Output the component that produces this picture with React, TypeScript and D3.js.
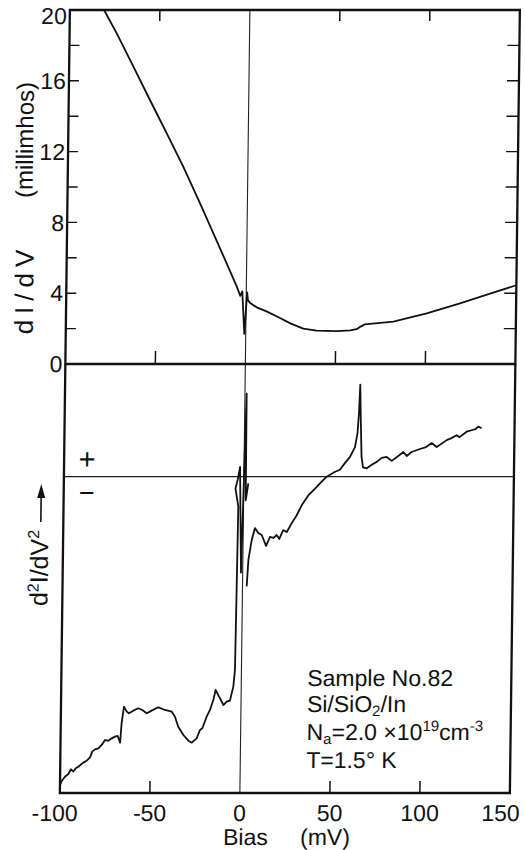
import React from 'react';
import * as d3 from 'd3';

// ---- data ----
const biasTicks = [-100, -50, 0, 50, 100, 150];
const innerBiasTicks = [-50, 50, 100];
const dIdVTicks = [0, 4, 8, 12, 16, 20];
const dIdVMinorTicks = [2, 4, 6, 8, 10, 12, 14, 16, 18];

// top panel: dI/dV (millimhos) vs bias (mV)
const dIdVBias = [-81, -73.8, -64.3, -54.8, -45.3, -35.9, -26.3, -18.7, -11.1, -5.3, -3.3, -2.2, -0.8, 0.5, 1.0, 2.2, 5.9, 11.4, 18.9, 25, 31.9, 39.4, 50.5, 58, 61.6, 63.5, 66.1, 81.9, 100.4, 118.8, 137.2, 150];
const dIdVValue = [20, 18.68, 16.8, 14.9, 13.03, 11.15, 9.08, 7.38, 5.69, 4.37, 3.85, 4.1, 1.7, 4.05, 3.6, 3.45, 3.2, 2.97, 2.6, 2.28, 2.0, 1.88, 1.86, 1.9, 1.97, 2.1, 2.24, 2.39, 2.86, 3.43, 4.03, 4.45];

// bottom panel: d2I/dV2 (arbitrary units), negative bias side through the zero-bias spike
const d2LeftBias = [-100, -98.7, -97.3, -95.4, -94.0, -92.7, -91.4, -89.9, -88.4, -87.2, -85.3, -83.5, -82.3, -80.8, -78.9, -77.1, -75.3, -73.4, -71.6, -69.8, -68.3, -66.9, -66.2, -65.0, -63.4, -62.2, -59.8, -57.0, -54.8, -52.3, -49.6, -45.9, -42.2, -38.4, -36.6, -34.7, -31.8, -29.0, -27.1, -24.4, -22.6, -21.3, -19.0, -17.2, -15.4, -14.2, -11.7, -9.8, -8.0, -6.2, -4.4, -3.6, -3.2, -2.9, -4.6, -3.4, -2.2, -0.95, 0.94, 1.17, 2.5];
const d2LeftValue = [-31.19, -30.68, -30.35, -30.08, -29.6, -29.84, -29.5, -29.34, -29.1, -28.93, -28.73, -28.39, -27.82, -27.58, -27.48, -27.14, -26.64, -26.71, -26.47, -26.3, -26.23, -26.9, -24.95, -23.27, -23.77, -23.94, -23.67, -23.43, -23.6, -23.94, -23.67, -23.33, -23.6, -23.77, -24.28, -25.29, -26.13, -26.71, -26.91, -26.47, -25.62, -25.45, -24.28, -23.6, -22.59, -21.58, -22.42, -23.1, -22.76, -22.66, -21.24, -19.55, -10.3, -3.0, -1.2, -0.3, 1.0, -9.7, 8.4, -2.4, -0.67];

// bottom panel: positive bias side
const d2RightBias = [2.3, 3.1, 4.8, 6.5, 8.4, 10.3, 12.8, 14.9, 16.8, 18.6, 20.1, 22.2, 24.2, 26.9, 29.6, 32.3, 35.9, 39.6, 43.2, 46.0, 47.8, 50.6, 53.3, 56.1, 58.8, 61.5, 62.8, 63.5, 64.0, 64.5, 65.2, 66.1, 68.2, 70.9, 73.7, 76.4, 79.2, 82.0, 85.6, 88.4, 90.3, 93.0, 97.6, 101.0, 104.1, 106.9, 112.4, 115.0, 117.9, 119.5, 123.4, 128.1, 129.9, 131.7];
const d2RightValue = [-11.1, -8.4, -6.4, -5.2, -5.7, -5.9, -7.0, -6.1, -6.2, -5.9, -6.3, -5.4, -5.6, -4.7, -3.9, -2.9, -1.9, -1.2, -0.5, 0, 0.2, 0.5, 0.7, 1.4, 2.0, 3.0, 4.4, 6.5, 9.3, 6.0, 2.0, 0.95, 0.85, 1.2, 1.5, 1.9, 2.0, 1.6, 2.1, 2.5, 2.1, 2.5, 2.8, 3.0, 3.4, 3.0, 3.7, 3.9, 4.2, 4.0, 4.55, 4.8, 5.06, 4.9];

const FONT = '"Liberation Sans", Arial, sans-serif';

export default function App() {
  const W = 525;
  const H = 850;
  const x = d3.scaleLinear().domain([-100, 150]).range([70, 520]);
  const yTop = d3.scaleLinear().domain([0, 20]).range([364, 10]);
  const yBot = d3.scaleLinear().domain([-32, 11.4]).range([793, 364]);

  const lineTop = d3.line<number>().x((_, i) => x(dIdVBias[i])).y((v) => yTop(v));
  const lineBot = (bias: number[]) =>
    d3.line<number>().x((_, i) => x(bias[i])).y((v) => yBot(v));

  const xL = x(-100);
  const xR = x(150);
  const top = yTop(20);
  const mid = yTop(0);
  const bot = yBot.range()[0];
  const lastTick = biasTicks[biasTicks.length - 1];
  const firstTick = biasTicks[0];
  const topTick = dIdVTicks[dIdVTicks.length - 1];

  return (
    <svg width={W} height={H} style={{ position: 'absolute', left: 0, top: 0, background: '#fff' }}
      fontFamily={FONT}>
      <g transform="matrix(1,0,-0.01277,1,0,0)">
        {/* zero-bias reference line */}
        <line x1={x(0)} x2={x(0)} y1={top} y2={bot} stroke="#222" strokeWidth={1.1} />
        {/* zero line of bottom panel */}
        <line x1={xL} x2={xR} y1={yBot(0)} y2={yBot(0)} stroke="#222" strokeWidth={1.2} />

        {/* frames */}
        <rect x={xL} y={top} width={xR - xL} height={mid - top} fill="none" stroke="#111" strokeWidth={2.3} />
        <path d={`M${xL},${mid}V${bot}H${xR}V${mid}`} fill="none" stroke="#111" strokeWidth={2.3} />

        {/* ticks */}
        {innerBiasTicks.map((t) => (
          <g key={'tt' + t}>
            <line x1={x(t)} x2={x(t)} y1={top} y2={top + 11} stroke="#111" strokeWidth={1.5} />
            <line x1={x(t)} x2={x(t)} y1={mid} y2={mid - 13} stroke="#111" strokeWidth={1.5} />
            <line x1={x(t)} x2={x(t)} y1={bot} y2={bot - 12} stroke="#111" strokeWidth={1.5} />
          </g>
        ))}
        {dIdVMinorTicks.map((t) => (
          <g key={'yt' + t}>
            <line x1={xL} x2={xL + 10} y1={yTop(t)} y2={yTop(t)} stroke="#111" strokeWidth={1.4} />
            <line x1={xR} x2={xR - 12} y1={yTop(t)} y2={yTop(t)} stroke="#111" strokeWidth={1.4} />
          </g>
        ))}

        {/* y tick labels */}
        {dIdVTicks.map((t) => (
          <text key={'yl' + t} x={xL - 3} y={yTop(t) + (t === topTick ? 6 : 0)} dy="0.36em" textAnchor="end" fontSize={23} fill="#111">
            {t}
          </text>
        ))}
        {/* x tick labels */}
        {biasTicks.map((t) => (
          <text key={'xl' + t}
            x={t === lastTick ? x(t) + 10 : t === firstTick ? x(t) + 18 : x(t)}
            y={821}
            textAnchor={t === lastTick || t === firstTick ? 'end' : 'middle'}
            fontSize={23} fill="#111">
            {t}
          </text>
        ))}

        {/* curves */}
        <path d={lineTop(dIdVValue) || ''} fill="none" stroke="#111" strokeWidth={1.8} strokeLinejoin="round" />
        <path d={lineBot(d2LeftBias)(d2LeftValue) || ''} fill="none" stroke="#111" strokeWidth={1.8} strokeLinejoin="round" />
        <path d={lineBot(d2RightBias)(d2RightValue) || ''} fill="none" stroke="#111" strokeWidth={1.8} strokeLinejoin="round" />

        {/* + / - signs */}
        <text x={93} y={459} dy="0.35em" textAnchor="middle" fontSize={29} fill="#111">+</text>
        <text x={93} y={493} dy="0.35em" textAnchor="middle" fontSize={27} fill="#111">−</text>

        {/* axis titles */}
        <text transform="translate(35,140) rotate(-90)" textAnchor="middle" fontSize={24} fill="#111">(millimhos)</text>
        <text transform="translate(37,289) rotate(-90)" textAnchor="middle" fontSize={26} letterSpacing={6} fill="#111">dI/dV</text>

        <text transform="translate(55,568) rotate(-90)" textAnchor="middle" fontSize={25} fill="#111">
          d<tspan dy={-9} fontSize={16}>2</tspan><tspan dy={9}>I/dV</tspan><tspan dy={-9} fontSize={16}>2</tspan>
        </text>
        <line x1={47.5} x2={47.5} y1={522} y2={496} stroke="#111" strokeWidth={1.6} />
        <polygon points="47.5,484 43.5,498 51.5,498" fill="#111" />

        <text x={233.8} y={845} fontSize={23} fill="#111">Bias</text>
        <text x={310.8} y={845} fontSize={23} fill="#111">(mV)</text>

        {/* annotation */}
        <g fontSize={23} fill="#111">
          <text x={316} y={686}>Sample No.82</text>
          <text x={316} y={712}>Si/SiO<tspan dy={4} fontSize={15}>2</tspan><tspan dy={-4}>/In</tspan></text>
          <text x={316} y={740}>N<tspan dy={4} fontSize={15}>a</tspan><tspan dy={-4}>=2.0 ×10</tspan><tspan dy={-9} fontSize={15}>19</tspan><tspan dy={9}>cm</tspan><tspan dy={-9} fontSize={15}>-3</tspan></text>
          <text x={316} y={768}>T=1.5° K</text>
        </g>
      </g>
    </svg>
  );
}
